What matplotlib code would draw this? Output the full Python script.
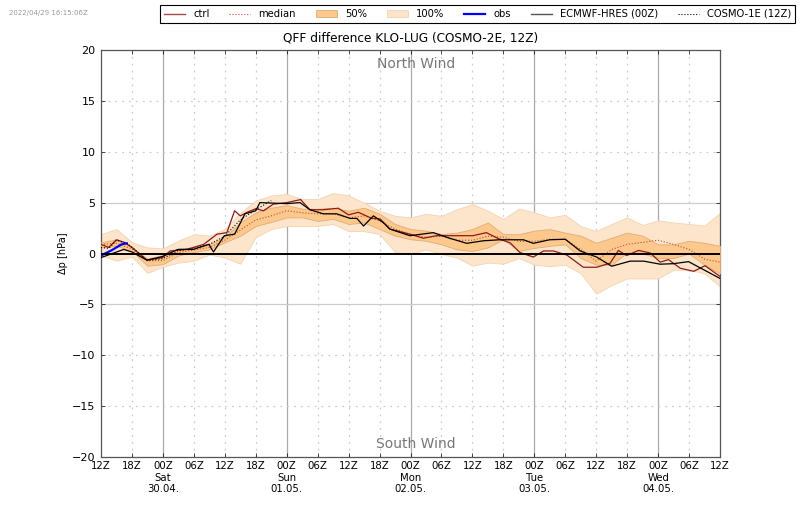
import numpy as np
import matplotlib
matplotlib.use('Agg')
import matplotlib.pyplot as plt
from matplotlib.patches import Patch
from matplotlib.lines import Line2D

# ensemble envelope, every 3 hours from 29.04. 12Z
hours = np.arange(0, 123, 3)
upper_100 = [1.9, 2.4, 1.1, 0.6, 0.5, 1.25, 1.9, 1.75, 2.4, 4.0, 5.2, 5.7, 5.85, 5.35, 5.35, 5.95, 5.7, 5.0, 4.2, 3.7, 3.55,
             3.9, 3.7, 4.35, 4.85, 4.2, 3.4, 4.4, 4.05, 3.55, 3.8, 2.7, 2.2, 2.9, 3.55, 2.8, 3.25, 3.05, 2.9, 2.75, 4.0]
lower_100 = [-0.2, -0.7, -0.3, -1.9, -1.3, -0.9, -0.7, -0.1, -0.4, -1.0, 1.6, 2.4, 2.7, 2.7, 2.7, 2.9, 2.2, 2.2, 1.9, 0.15, -0.05,
             0.4, -0.05, -0.4, -1.2, -0.9, -1.0, -0.45, -1.1, -1.25, -1.1, -1.95, -3.95, -3.1, -2.45, -2.45, -2.45, -1.6, -1.6, -1.95, -3.25]
upper_50 = [1.1, 1.4, 0.6, -0.5, -0.15, 0.5, 0.6, 0.9, 1.6, 3.05, 4.05, 4.5, 4.75, 4.4, 4.4, 4.5, 4.2, 4.5, 3.9, 2.9, 2.4,
            2.25, 1.9, 2.05, 2.4, 3.05, 1.9, 1.9, 2.25, 2.4, 2.05, 1.75, 1.05, 1.55, 2.05, 1.75, 0.9, 0.9, 1.25, 1.05, 0.75]
lower_50 = [0.6, 0.75, 0.25, -1.2, -1.05, -0.2, 0.15, 0.4, 1.1, 1.75, 2.7, 3.1, 3.55, 3.55, 3.2, 3.4, 2.9, 3.05, 2.4, 1.75, 1.4,
            1.25, 0.9, 0.4, 0.25, 0.6, 1.4, 0.25, 0.55, 0.75, 0.9, -0.45, -1.1, -1.1, 0.1, 0.0, -0.45, -0.45, 0.0, -1.1, -1.95]
median = [0.9, 1.0, 0.45, -0.7, -0.7, 0.1, 0.35, 0.6, 1.3, 2.3, 3.3, 3.7, 4.2, 4.0, 3.9, 3.9, 3.5, 3.7, 3.2, 2.4, 1.9,
          1.6, 1.7, 1.3, 1.3, 1.7, 1.6, 1.2, 1.2, 1.4, 1.4, 0.4, -0.75, 0.4, 0.9, 1.1, 1.3, 0.9, 0.4, -0.55, -0.85]

ctrl_h = [0, 1.5, 3, 4.5, 6, 8.9, 11.9, 13.4, 16.6, 19.9, 22.5, 24.4, 25.9, 27, 28.3, 30, 31.5, 33.4, 36, 38.7, 40.5, 43.1, 46, 48,
          49.9, 52.5, 54.1, 56, 59.9, 62.5, 65, 67.6, 72.1, 74.7, 77.3, 79.3, 81.2, 83.8, 85.8, 87.7, 90.3, 93.5, 96.1, 98.7,
          100.3, 101.9, 104.2, 106.5, 108.4, 110, 112.3, 114.9, 117.1, 120]
ctrl = [0.9, 0.6, 1.35, 1.1, 0.6, -0.65, -0.4, 0.25, 0.4, 0.9, 1.9, 2.05, 4.2, 3.7, 4.05, 4.4, 4.2, 4.85, 5.0, 5.3, 4.3, 4.3, 4.45, 3.8,
        4.05, 3.45, 3.4, 2.4, 1.9, 1.5, 1.75, 1.75, 1.75, 2.05, 1.4, 1.05, 0.1, -0.35, 0.25, 0.25, -0.15, -1.35, -1.35, -0.95,
        0.3, -0.2, 0.3, 0.05, -0.85, -0.6, -1.45, -1.75, -1.2, -2.25]

ecmwf_h = [0, 4.4, 6, 8.9, 11.9, 14.9, 17.9, 20.9, 21.8, 23.9, 25.9, 27.9, 30, 30.8, 36, 38.6, 40.5, 43.1, 45.7, 48.3, 49.6, 50.9, 52.8,
           54.7, 56, 59.9, 64.4, 67.6, 70.9, 74.1, 77.3, 81.9, 83.8, 87, 90, 92.9, 96.1, 99, 102.6, 105.2, 108.4, 111, 113.9, 120]
ecmwf = [-0.4, 0.4, 0.15, -0.65, -0.3, 0.4, 0.4, 0.9, 0.15, 1.75, 1.9, 3.9, 4.2, 5.0, 4.9, 5.0, 4.3, 3.9, 3.9, 3.45, 3.45, 2.7, 3.7,
         3.05, 2.4, 1.75, 2.05, 1.5, 1.0, 1.25, 1.35, 1.35, 1.0, 1.35, 1.4, 0.25, -0.35, -1.25, -0.75, -0.75, -1.05, -1.0, -0.8, -2.45]

cosmo1_h = [0, 1.5, 3, 5, 6, 9, 12, 15, 18, 21, 24, 27, 30, 33]
cosmo1 = [0.6, 0.5, 1.3, 1.0, 0.6, -0.7, -0.5, 0.3, 0.5, 0.9, 1.7, 3.3, 4.3, 5.2]

obs_h = [0, 2, 3, 4, 5]
obs = [-0.2, 0.3, 0.6, 0.9, 1.0]

tick_hours = np.arange(0, 126, 6)
tick_labels = ['12Z', '18Z', '00Z\nSat\n30.04.', '06Z', '12Z', '18Z', '00Z\nSun\n01.05.', '06Z', '12Z', '18Z', '00Z\nMon\n02.05.',
               '06Z', '12Z', '18Z', '00Z\nTue\n03.05.', '06Z', '12Z', '18Z', '00Z\nWed\n04.05.', '06Z', '12Z']
y_ticks = np.arange(-20, 25, 5)

fig = plt.figure(figsize=(8, 5.09), dpi=100)
ax = fig.add_axes([101/800, 1-457/509, 619/800, 407/509])

ax.fill_between(hours, lower_100, upper_100, facecolor='#fde5cc', edgecolor='#f3d3b0', linewidth=0.6, zorder=2)
ax.fill_between(hours, lower_50, upper_50, facecolor='#fdc88c', edgecolor='#e0ac76', linewidth=0.6, zorder=3)
ax.plot(hours, median, color='#c04a3a', ls=':', lw=0.8, zorder=4)
ax.plot(ctrl_h, ctrl, color='#8e1a1a', lw=0.9, zorder=5)
ax.plot(obs_h, obs, color='blue', lw=1.6, zorder=6)
ax.plot(ecmwf_h, ecmwf, color='black', lw=0.9, zorder=7)
ax.plot(cosmo1_h, cosmo1, color='black', ls=':', lw=0.8, zorder=7)

# grid: solid at 00Z and +-5, dotted otherwise
for h in tick_hours:
    if h % 24 == 12:
        ax.axvline(h, color='#aaaaaa', lw=0.9, zorder=1)
    elif 0 < h < 120:
        ax.axvline(h, color='#cccccc', ls=(0, (1.5, 4)), lw=0.9, zorder=1)
for y in y_ticks:
    if y == 0:
        ax.axhline(y, color='black', lw=1.4, zorder=8)
    elif abs(y) == 5:
        ax.axhline(y, color='#cccccc', lw=0.9, zorder=1)
    elif abs(y) < 20:
        ax.axhline(y, color='#cccccc', ls=(0, (1.5, 4)), lw=0.9, zorder=1)

ax.set_xlim(0, 120)
ax.set_ylim(-20, 20)
ax.set_xticks(tick_hours)
ax.set_xticklabels(tick_labels, fontsize=7.3)
ax.set_yticks(y_ticks)
ax.tick_params(axis='y', labelsize=8, direction='in', length=3, width=0.5, pad=4, right=True)
ax.tick_params(axis='x', direction='in', length=3, width=0.5, pad=3, top=True)
for s in ax.spines.values():
    s.set_linewidth(0.9)
    s.set_color('#555555')

ax.set_ylabel('Δp [hPa]', fontsize=7, labelpad=3)
ax.set_title('QFF difference KLO-LUG (COSMO-2E, 12Z)', fontsize=8.7, pad=6)
ax.text(61, 18.6, 'North Wind', color='#777777', fontsize=10, ha='center', va='center', zorder=9)
ax.text(61, -18.7, 'South Wind', color='#777777', fontsize=10, ha='center', va='center', zorder=9)

fig.text(9/800, 1-13/509, '2022/04/29 16:15:06Z', color='#999999', fontsize=5, va='center')

handles = [Line2D([], [], color='#a84a4a', lw=1.0),
           Line2D([], [], color='#c04a3a', ls=':', lw=0.8),
           Patch(facecolor='#fdc88c', edgecolor='#e0ac76', lw=0.6),
           Patch(facecolor='#fde5cc', edgecolor='#f3d3b0', lw=0.6),
           Line2D([], [], color='blue', lw=1.6),
           Line2D([], [], color='#555555', lw=1.0),
           Line2D([], [], color='black', ls=':', lw=0.8)]
labels = ['ctrl', 'median', '50%', '100%', 'obs', 'ECMWF-HRES (00Z)', 'COSMO-1E (12Z)']
leg = fig.legend(handles, labels, ncol=7, fontsize=7.2, loc='upper right', bbox_to_anchor=(795/800, 1-5/509),
                 borderaxespad=0, fancybox=False, framealpha=1, edgecolor='black', handlelength=2.1,
                 columnspacing=2.0, handletextpad=0.8, borderpad=0.4)
leg.get_frame().set_linewidth(0.8)

fig.savefig('out.png', dpi=100)
